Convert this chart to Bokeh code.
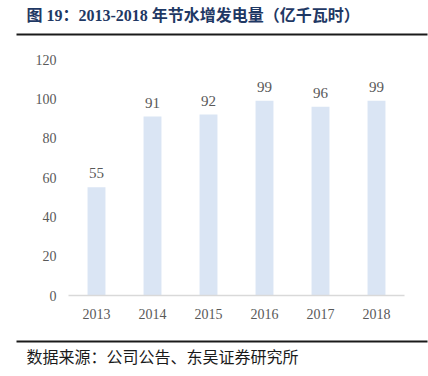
from bokeh.plotting import figure
from bokeh.layouts import column, row
from bokeh.models import FactorRange, Range1d, ColumnDataSource, FixedTicker
from bokeh.core.properties import value
from bokeh.embed import file_html
from bokeh.resources import INLINE

years = ["2013", "2014", "2015", "2016", "2017", "2018"]
generation = [55, 91, 92, 99, 96, 99]
y_ticks = [0, 20, 40, 60, 80, 100, 120]
title_text = "图 19：2013-2018 年节水增发电量（亿千瓦时）"
source_text = "数据来源：公司公告、东吴证券研究所"

SERIF = "'Liberation Serif', 'Times New Roman', serif"
CJK = "'Liberation Serif', 'Noto Sans CJK SC', serif"

W = 428
TOP_H, MID_H, BOT_H = 40, 296, 40


def strip(height):
    f = figure(width=W, height=height, x_range=Range1d(0, W), y_range=Range1d(height, 0),
               output_backend="svg", toolbar_location=None,
               x_axis_location=None, y_axis_location=None,
               min_border=0)
    f.outline_line_color = None
    f.xgrid.grid_line_color = None
    f.ygrid.grid_line_color = None
    f.border_fill_color = "white"
    try:
        f.frame_align = False
    except Exception:
        pass
    return f


# header strip: title and rule under it
head = strip(TOP_H)
head.text(x=[26], y=[15], text=[title_text], text_baseline="middle",
          text_font=value(CJK), text_font_size="16px", text_font_style="bold",
          text_color="#1f3864")
head.segment(x0=[16], y0=[34], x1=[427], y1=[34], line_color="#1a1a1a", line_width=2)

# chart
p = figure(width=W, height=MID_H, x_range=FactorRange(*years), y_range=Range1d(0, 120),
           output_backend="svg", toolbar_location=None,
           min_border_left=68, min_border_right=24,
           min_border_top=19, min_border_bottom=41)
p.outline_line_color = None
p.background_fill_color = "white"
p.border_fill_color = "white"
p.xgrid.grid_line_color = None
p.ygrid.grid_line_color = None
try:
    p.frame_align = False
except Exception:
    pass

src = ColumnDataSource(dict(x=years, y=generation, t=[str(v) for v in generation]))
p.vbar(x="x", top="y", width=0.32, source=src, fill_color="#dae5f4", line_color=None)
p.text(x="x", y="y", text="t", source=src, text_align="center", text_baseline="bottom",
       y_offset=-9, text_font=value(SERIF), text_font_size="15px", text_color="#595959")

p.xaxis.axis_line_color = "#d9d9d9"
p.xaxis.axis_line_width = 1.5
p.xaxis.major_tick_line_color = None
p.xaxis.minor_tick_line_color = None
p.xaxis.major_label_text_font = SERIF
p.xaxis.major_label_text_font_size = "14px"
p.xaxis.major_label_text_color = "#595959"
p.xaxis.major_label_standoff = 7

p.yaxis.ticker = FixedTicker(ticks=y_ticks)
p.yaxis.axis_line_color = None
p.yaxis.major_tick_line_color = None
p.yaxis.minor_tick_line_color = None
p.yaxis.major_label_text_font = SERIF
p.yaxis.major_label_text_font_size = "14px"
p.yaxis.major_label_text_color = "#595959"
p.yaxis.major_label_standoff = 6

# footer strip: rule and source
foot = strip(BOT_H)
foot.segment(x0=[16], y0=[5], x1=[427], y1=[5], line_color="#1a1a1a", line_width=2)
foot.text(x=[26], y=[19], text=[source_text], text_baseline="middle",
          text_font=value("'Noto Sans CJK SC', sans-serif"), text_font_size="16px",
          text_color="#1a1a1a")

layout = column(row(head), row(p), row(foot), spacing=0)
open("out.html", "w").write(file_html(layout, INLINE))
